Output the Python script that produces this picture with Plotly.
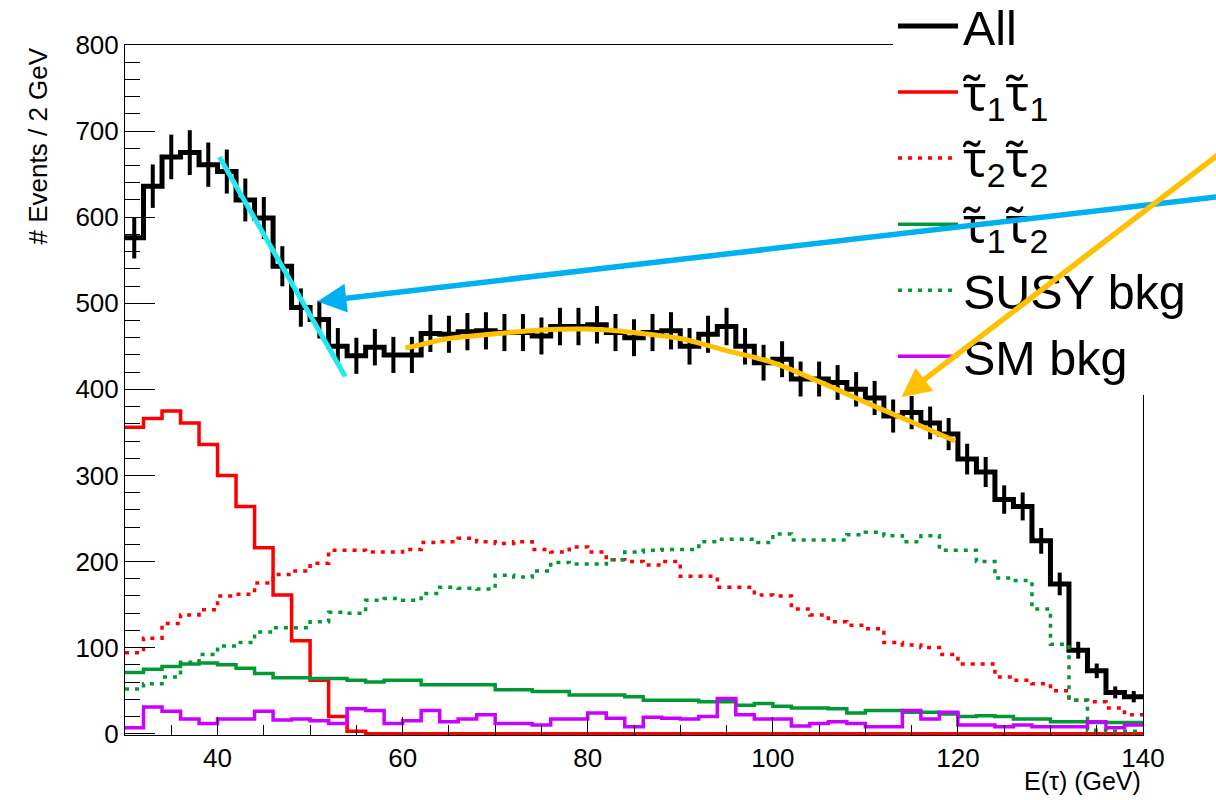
import numpy as np
import plotly.graph_objects as go

# ---------------- data (2 GeV bins from 30 to 140 GeV) ----------------
bin_lo, bin_hi, bin_w = 30, 140, 2

all_evts = [576, 636, 670, 675, 661, 653, 620, 599, 543, 495,
            481, 450, 439, 449, 440, 440, 465, 464, 467, 468,
            466, 466, 462, 473, 473, 475, 466, 460, 466, 468,
            450, 464, 473, 450, 431, 435, 412, 412, 408, 400,
            390, 369, 373, 361, 348, 319, 304, 272, 264, 224,
            174, 97, 73, 48, 43]

stau11 = [356, 366, 375, 361, 336, 300, 264, 216, 161, 108,
          62, 20, 3, 0, 0, 0, 0, 0, 0, 0,
          0, 0, 0, 0, 0, 0, 0, 0, 0, 0,
          0, 0, 0, 0, 0, 0, 0, 0, 0, 0,
          0, 0, 0, 0, 0, 0, 0, 0, 0, 0,
          0, 0, 0, 0, 0]

stau22 = [94, 111, 128, 138, 144, 160, 162, 175, 185, 189,
          198, 213, 213, 211, 211, 214, 222, 223, 227, 223,
          221, 223, 214, 211, 217, 211, 202, 200, 196, 200,
          183, 183, 170, 170, 161, 160, 145, 138, 130, 126,
          122, 106, 103, 100, 92, 81, 81, 66, 62, 58,
          50, 39, 37, 30, 22]

stau12 = [71, 75, 78, 81, 82, 80, 76, 70, 65, 65,
          64, 64, 62, 60, 62, 62, 57, 57, 57, 57,
          51, 51, 49, 49, 45, 45, 45, 43, 39, 39,
          39, 37, 37, 33, 35, 32, 30, 30, 29, 24,
          27, 27, 25, 25, 23, 20, 21, 20, 17, 17,
          14, 14, 13, 13, 13]

susy_bkg = [52, 58, 66, 83, 92, 102, 106, 118, 123, 123,
            130, 141, 140, 155, 157, 155, 163, 170, 169, 168,
            184, 182, 189, 199, 197, 197, 202, 211, 213, 214,
            214, 223, 226, 226, 222, 232, 225, 225, 225, 231,
            234, 230, 223, 230, 213, 213, 200, 181, 178, 145,
            104, 39, 4, 3, 3]

sm_bkg = [7, 31, 26, 17, 12, 17, 17, 26, 16, 17,
          15, 12, 29, 27, 12, 15, 27, 14, 17, 22,
          12, 12, 10, 17, 17, 24, 18, 8, 19, 18,
          17, 20, 41, 22, 17, 17, 9, 12, 14, 12,
          8, 8, 27, 17, 25, 10, 10, 8, 10, 8,
          8, 8, 14, 7, 10]

# hand-drawn overlays
slope_x = [40.2, 53.8]
slope_y = [670, 415]
fit_x = [60.3, 62, 65, 70, 75, 80, 85, 90, 95, 100, 105, 110, 115, 119.7]
fit_y = [448, 452, 459, 464.5, 469, 470, 466, 459, 445, 431, 409, 385, 362, 340]

blue_tip = (50.8, 502)
blue_tail = (150, 626)
orange_tip = (113.9, 391)
orange_tail = (150, 688)

TT = '<span style="font-family:Noto Sans">τ̃</span>'
labels = ["All",
          TT + "<sub>1</sub>" + TT + "<sub>1</sub>",
          TT + "<sub>2</sub>" + TT + "<sub>2</sub>",
          TT + "<sub>1</sub>" + TT + "<sub>2</sub>",
          "SUSY bkg",
          "SM bkg"]

# ---------------- figure ----------------
edges = np.arange(bin_lo, bin_hi + bin_w, bin_w)
centers = edges[:-1] + bin_w / 2.0


def step(vals):
    return list(vals) + [vals[-1]]


FONT = "Liberation Sans, Arial, sans-serif"
fig = go.Figure()

series = [
    (all_evts, labels[0], "black", 5, "solid"),
    (stau11, labels[1], "#ff0000", 3.5, "solid"),
    (stau22, labels[2], "#ff0000", 3.5, "4px,6px"),
    (stau12, labels[3], "#009933", 3.5, "solid"),
    (susy_bkg, labels[4], "#009933", 3.5, "4px,6px"),
    (sm_bkg, labels[5], "#cc00ff", 3.5, "solid"),
]
for vals, name, col, w, dash in series:
    fig.add_trace(go.Scatter(x=edges, y=step(vals), mode="lines", name=name,
                             line=dict(color=col, width=w, dash=dash, shape="hv"),
                             hoverinfo="skip"))

fig.add_trace(go.Scatter(x=centers, y=all_evts, mode="markers", showlegend=False,
                         marker=dict(size=1, color="black", opacity=0),
                         error_y=dict(type="data", array=np.sqrt(all_evts),
                                      color="black", thickness=4, width=0),
                         hoverinfo="skip"))

fig.add_trace(go.Scatter(x=slope_x, y=slope_y, mode="lines", showlegend=False,
                         line=dict(color="#22e8f0", width=5), hoverinfo="skip"))
fig.add_trace(go.Scatter(x=fit_x, y=fit_y, mode="lines", showlegend=False,
                         line=dict(color="#ffc000", width=5, shape="spline"),
                         hoverinfo="skip"))

arrows = [(blue_tip, blue_tail, "#00b0f0"), (orange_tip, orange_tail, "#ffc000")]
annotations = []
for tip, tail, col in arrows:
    annotations.append(dict(x=tip[0], y=tip[1], ax=tail[0], ay=tail[1],
                            xref="x", yref="y", axref="x", ayref="y",
                            text="", showarrow=True, arrowhead=2, arrowsize=1.05,
                            arrowwidth=5.5, arrowcolor=col, standoff=0))

annotations.append(dict(text="# Events / 2 GeV", textangle=-90,
                        xref="paper", yref="paper", x=-0.0855, y=1.0,
                        xanchor="center", yanchor="top", showarrow=False,
                        font=dict(family=FONT, size=26, color="black")))
annotations.append(dict(text="E(τ) (GeV)",
                        xref="paper", yref="paper", x=1.0, y=-0.0667,
                        xanchor="right", yanchor="middle", showarrow=False,
                        font=dict(family=FONT, size=25, color="black")))

fig.update_layout(
    width=1216, height=800,
    margin=dict(l=125, r=73, t=45, b=65, autoexpand=False),
    paper_bgcolor="white", plot_bgcolor="white",
    font=dict(family=FONT, color="black"),
    showlegend=True,
    legend=dict(x=0.7544, xanchor="left", y=0.4928, yanchor="bottom",
                bgcolor="white", borderwidth=0, itemwidth=60,
                font=dict(family=FONT, size=48.5, color="black"),
                tracegroupgap=0),
    annotations=annotations,
    xaxis=dict(range=[bin_lo, bin_hi], showgrid=False, zeroline=False,
               showline=True, linecolor="black", linewidth=1, mirror=True,
               ticks="inside", ticklen=18, tickwidth=1, tickcolor="black",
               tick0=0, dtick=20,
               tickfont=dict(family=FONT, size=26, color="black"),
               minor=dict(ticks="inside", ticklen=10, tickwidth=1,
                          tickcolor="black", dtick=5, showgrid=False)),
    yaxis=dict(range=[-1.5, 800], showgrid=False, zeroline=False,
               showline=True, linecolor="black", linewidth=1, mirror=True,
               ticks="inside", ticklen=30, tickwidth=1, tickcolor="black",
               tick0=0, dtick=100,
               tickfont=dict(family=FONT, size=26, color="black"),
               minor=dict(ticks="inside", ticklen=15, tickwidth=1,
                          tickcolor="black", dtick=20, showgrid=False)),
)

fig.write_html("out.html",
               config={"displayModeBar": False},
               post_script="document.body.style.margin='0';"
                           "document.body.style.overflow='hidden';")
